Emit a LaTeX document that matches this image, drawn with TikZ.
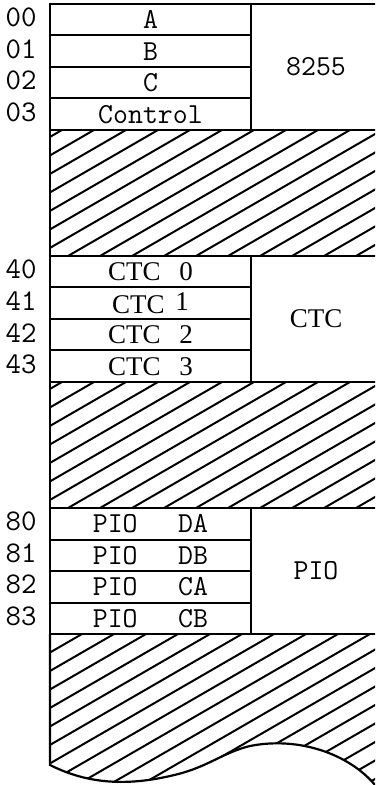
\documentclass[tikz,border=0pt]{standalone}
\usepackage{fontspec}
\newfontfamily\tms{Liberation Serif}
\usetikzlibrary{positioning}

\begin{document}
\begin{tikzpicture}[x=0.5pt,y=-0.5pt,
 c/.style={draw,line width=1pt,minimum width=100.5pt,minimum height=15.75pt,inner sep=0pt,font=\ttfamily\fontsize{14.5}{15}\selectfont},
 ct/.style={c,font=\tms\fontsize{13.5}{14}\selectfont},
 blk/.style={draw,line width=1pt,minimum width=65pt,minimum height=63pt,inner sep=0pt,font=\ttfamily\fontsize{14.5}{15}\selectfont},
 ad/.style={inner sep=0pt,font=\ttfamily\fontsize{15}{16}\selectfont},
 h/.style={line width=1pt}, e/.style={line width=1.1pt}]
 \clip (0,0) rectangle (375,785);
 % 8255
 \node[c] (pa) at (150.5,19.75) {A};
 \node[c] (pb) at (150.5,51.25) {B};
 \node[c] (pc) at (150.5,82.75) {C};
 \node[c] (pctl) at (150.5,114.25) {Control};
 \node[blk] (ppi) at (316,67) {8255};
 % CTC
 \node[ct] (ct0) at (150.5,271.75) {CTC\hspace{0.7em}0};
 \node[ct] (ct1) at (150.5,303.25) {CTC\hspace{0.4em}\raisebox{1.5pt}{1}};
 \node[ct] (ct2) at (150.5,334.75) {CTC\hspace{0.7em}2};
 \node[ct] (ct3) at (150.5,366.25) {CTC\hspace{0.7em}3};
 \node[blk,font=\tms\fontsize{13.5}{14}\selectfont] (ctc) at (316,319) {CTC};
 % PIO
 \node[c] (da) at (150.5,523.75) {PIO\hspace{1.4em}DA};
 \node[c] (db) at (150.5,555.25) {PIO\hspace{1.4em}DB};
 \node[c] (ca) at (150.5,586.75) {PIO\hspace{1.4em}CA};
 \node[c] (cb) at (150.5,618.25) {PIO\hspace{1.4em}CB};
 \node[blk] (pio) at (316,571) {PIO};
 % port addresses
 \node[ad,left=6pt of pa,yshift=1pt] (a00) {00};
 \node[ad,left=6pt of pb,yshift=1pt] (a01) {01};
 \node[ad,left=6pt of pc,yshift=1pt] (a02) {02};
 \node[ad,left=6pt of pctl,yshift=1pt] (a03) {03};
 \node[ad,left=6pt of ct0,yshift=1pt] (a40) {40};
 \node[ad,left=6pt of ct1,yshift=1pt] (a41) {41};
 \node[ad,left=6pt of ct2,yshift=1pt] (a42) {42};
 \node[ad,left=6pt of ct3,yshift=1pt] (a43) {43};
 \node[ad,left=6pt of da,yshift=1pt] (a80) {80};
 \node[ad,left=6pt of db,yshift=1pt] (a81) {81};
 \node[ad,left=6pt of ca,yshift=1pt] (a82) {82};
 \node[ad,left=6pt of cb,yshift=1pt] (a83) {83};
 % unused areas
 \begin{scope}
  \clip (50,130) rectangle (375,256);
  \foreach \x in {-188,-156,...,372} \draw[h] (\x,256) -- ++(218,-126);
 \end{scope}
 \begin{scope}
  \clip (50,382) rectangle (375,508);
  \foreach \x in {-188,-156,...,372} \draw[h] (\x,508) -- ++(218,-126);
 \end{scope}
 \begin{scope}
  \clip (50,634) -- (375,634) -- (375,785) .. controls (350,755) and (300,736) .. (250,746)
   .. controls (225,752) and (210,765) .. (182,773) .. controls (120,790) and (80,780) .. (50,765) -- cycle;
  \foreach \x in {-252,-220,...,380} \draw[h] (\x,790) -- ++(270,-156);
 \end{scope}
 \draw[e] (50,130) -- (50,256);
 \draw[e] (50,382) -- (50,508);
 \draw[e] (50,634) -- (50,765) .. controls (80,780) and (120,790) .. (182,773)
  .. controls (210,765) and (225,752) .. (250,746) .. controls (300,736) and (350,755) .. (375,785);
\end{tikzpicture}
\end{document}
